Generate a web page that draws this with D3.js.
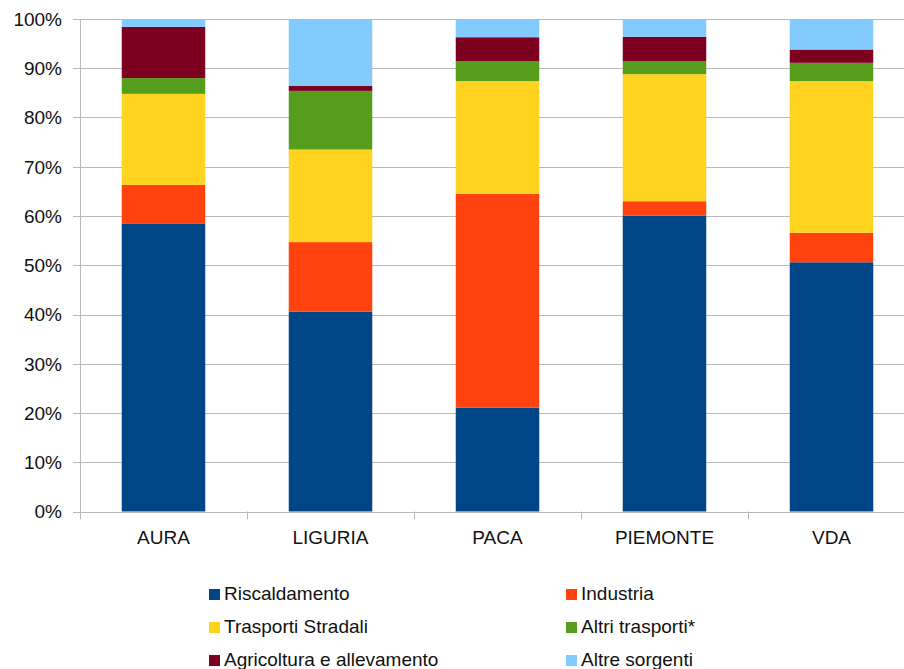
<!DOCTYPE html>
<html>
<head>
<meta charset="utf-8">
<script src="https://cdn.jsdelivr.net/npm/d3@7"></script>
<style>
  html, body { margin: 0; padding: 0; background: #fff; }
  svg { display: block; }
  text { font-family: "Liberation Sans", Arial, sans-serif; fill: #111; }
</style>
</head>
<body>
<svg id="chart" width="904" height="669"></svg>
<script>
// Regions on the x axis
const categories = ["AURA", "LIGURIA", "PACA", "PIEMONTE", "VDA"];

// Share of emissions by source (%), one value per region
const riscaldamento   = [58.5, 40.6, 21.1, 60.1, 50.6];
const industria       = [7.8, 14.1, 43.4, 2.9, 6.0];
const trasportiStrad  = [18.5, 18.8, 22.9, 25.8, 30.8];
const altriTrasporti  = [3.2, 11.9, 4.0, 2.6, 3.7];
const agricoltura     = [10.4, 1.0, 4.9, 5.0, 2.7];
const altreSorgenti   = [1.6, 13.6, 3.7, 3.6, 6.2];

const seriesNames = ["Riscaldamento", "Industria", "Trasporti Stradali",
                     "Altri trasporti*", "Agricoltura e allevamento", "Altre sorgenti"];
const seriesValues = [riscaldamento, industria, trasportiStrad,
                      altriTrasporti, agricoltura, altreSorgenti];
const colors = ["#004586", "#ff420e", "#ffd320", "#579d1c", "#7e0021", "#83caff"];

const yTicks = [0, 10, 20, 30, 40, 50, 60, 70, 80, 90, 100];

// Rows for d3.stack
const rows = categories.map((c, i) => {
  const r = { cat: c };
  seriesNames.forEach((s, k) => { r[s] = seriesValues[k][i]; });
  return r;
});
const stacked = d3.stack().keys(seriesNames)(rows);

const svg = d3.select("#chart");
const plotLeft = 80, plotTop = 19, plotBottom = 511.5, step = 167;

const x = d3.scaleBand()
  .domain(categories)
  .range([plotLeft, plotLeft + step * categories.length])
  .paddingInner(0.5)
  .paddingOuter(0.25);

const y = d3.scaleLinear().domain([0, 100]).range([plotBottom, plotTop]);

// Horizontal gridlines
svg.append("g")
  .selectAll("line")
  .data(yTicks)
  .join("line")
  .attr("x1", plotLeft - 7)
  .attr("x2", 904)
  .attr("y1", d => Math.round(y(d)) + 0.5)
  .attr("y2", d => Math.round(y(d)) + 0.5)
  .attr("stroke", "#b9b9b9")
  .attr("stroke-width", 1);

// Y tick labels
svg.append("g")
  .selectAll("text")
  .data(yTicks)
  .join("text")
  .attr("x", plotLeft - 18)
  .attr("y", d => y(d))
  .attr("dy", "0.36em")
  .attr("text-anchor", "end")
  .style("font-size", "19px")
  .text(d => d + "%");

// Stacked bars
svg.append("g")
  .selectAll("g")
  .data(stacked)
  .join("g")
  .attr("fill", (d, i) => colors[i])
  .selectAll("rect")
  .data(d => d)
  .join("rect")
  .attr("x", d => x(d.data.cat))
  .attr("width", x.bandwidth())
  .attr("y", d => y(d[1]))
  .attr("height", d => y(d[0]) - y(d[1]));

// Y axis line
svg.append("line")
  .attr("x1", plotLeft + 0.5).attr("x2", plotLeft + 0.5)
  .attr("y1", plotTop).attr("y2", plotBottom + 8)
  .attr("stroke", "#b9b9b9");

// X axis tick marks between categories
const xTickPos = d3.range(1, categories.length + 1).map(i => plotLeft + x.step() * i);
svg.append("g")
  .selectAll("line")
  .data(xTickPos)
  .join("line")
  .attr("x1", d => Math.round(d) + 0.5)
  .attr("x2", d => Math.round(d) + 0.5)
  .attr("y1", plotBottom)
  .attr("y2", plotBottom + 8)
  .attr("stroke", "#b9b9b9");

// Category labels
svg.append("g")
  .selectAll("text")
  .data(categories)
  .join("text")
  .attr("x", d => x(d) + x.bandwidth() / 2)
  .attr("y", 543.5)
  .attr("text-anchor", "middle")
  .style("font-size", "19px")
  .text(d => d);

// Legend: two columns, three rows
const legend = svg.append("g");
const legItems = legend.selectAll("g")
  .data(seriesNames)
  .join("g")
  .attr("transform", (d, i) => {
    const col = i % 2, row = Math.floor(i / 2);
    return `translate(${col === 0 ? 209 : 566}, ${589 + row * 33})`;
  });
legItems.append("rect")
  .attr("width", 11).attr("height", 11)
  .attr("fill", (d, i) => colors[i]);
legItems.append("text")
  .attr("x", 15)
  .attr("y", 11)
  .style("font-size", "19px")
  .text(d => d);
</script>
</body>
</html>
